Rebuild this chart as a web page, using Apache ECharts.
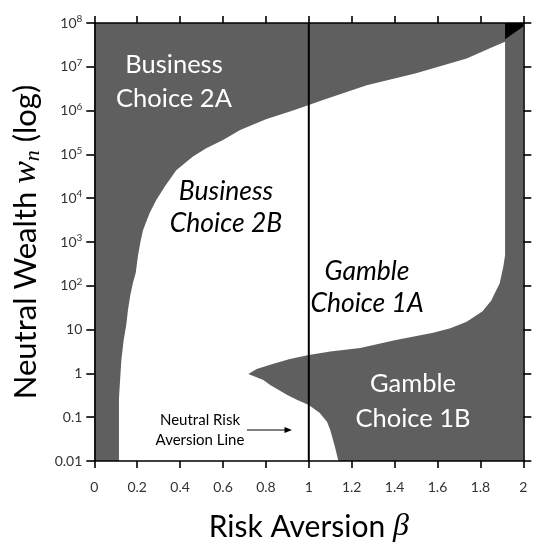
<!DOCTYPE html>
<html><head><meta charset="utf-8">
<script src="https://cdn.jsdelivr.net/npm/echarts@6/dist/echarts.min.js"></script>
<style>html,body{margin:0;padding:0;background:#fff}#c{width:546px;height:550px}</style>
</head><body><div id="c"></div>
<script>
// ---- data ----
const xTickLabels = ['0','0.2','0.4','0.6','0.8','1','1.2','1.4','1.6','1.8','2'];
const yTickBase = ['0.01','0.1','1','10','10','10','10','10','10','10','10'];
const yTickSup  = ['','','','','2','3','4','5','6','7','8'];

// Business choice boundary (2A above / 2B below)
const businessBeta = [0.115,0.115,0.126,0.137,0.149,0.157,0.168,0.180,0.193,0.204,0.215,0.227,0.258,0.289,0.328,0.382,0.46,0.522,0.60,0.68,0.80,0.926,1.0,1.066,1.27,1.50,1.736,1.86,1.915];
const businessW    = [0.01,0.27,2.0,5.8,12.7,28,62,116,195,500,1000,1860,4570,9120,18200,43700,89100,138000,214000,363000,631000,1.0e6,1.35e6,1.74e6,3.8e6,7.08e6,1.55e7,2.88e7,3.72e7];

// Gamble choice 1B wedge: upper edge
const gambleUpperBeta = [0.718,0.757,0.835,0.912,1.0,1.1,1.24,1.4,1.58,1.66,1.736,1.81,1.85,1.89,1.907,1.915,1.93];
const gambleUpperW    = [0.97,1.26,1.66,2.14,2.63,3.16,3.8,5.75,8.5,10.7,15.1,26.3,45.7,115,275,500,500];
// Gamble choice 1B wedge: lower edge
const gambleLowerBeta = [0.70,0.718,0.788,0.82,0.866,0.9,0.944,1.0,1.05,1.085,1.1,1.122,1.138];
const gambleLowerW    = [0.97,0.97,0.71,0.54,0.40,0.32,0.25,0.19,0.126,0.079,0.051,0.021,0.01];

// Black corner region (top right)
const cornerBeta = [1.915, 2.0];
const cornerW    = [4.27e7, 8.3e7];

// Neutral risk aversion line
const neutralBeta = [1, 1];
const neutralW    = [0.01, 1e8];

const DARK = '#5f5f5f';
const zip = (a, b) => a.map((v, i) => [v, b[i]]);

const chart = echarts.init(document.getElementById('c'), null, {renderer: 'canvas'});
const axisLineStyle = {color: '#000', width: 1.6};
const baseX = {
  type: 'value', min: 0, max: 2, interval: 0.2, z: 10,
  axisLine: {show: true, onZero: false, lineStyle: axisLineStyle},
  axisTick: {show: true, inside: false, length: 7, lineStyle: axisLineStyle},
  splitLine: {show: false}
};
const baseY = {
  type: 'log', logBase: 10, min: 0.01, max: 1e8, interval: 1, splitNumber: 10, z: 10,
  axisLine: {show: true, onZero: false, lineStyle: axisLineStyle},
  axisTick: {show: true, inside: false, length: 8, lineStyle: axisLineStyle},
  splitLine: {show: false}, minorTick: {show: false}
};

chart.setOption({
  animation: false,
  grid: {left: 94.3, right: 22.7, top: 23, bottom: 89, show: true, backgroundColor: DARK, borderWidth: 0},
  xAxis: [
    Object.assign({}, baseX, {
      position: 'bottom',
      axisLabel: {margin: 19, fontSize: 14, color: '#333', fontFamily: 'Lato',
        formatter: (v, i) => xTickLabels[i]},
      name: 'Risk Aversion {b|β}', nameLocation: 'middle', nameGap: 50,
      nameTextStyle: {fontFamily: 'Lato', fontSize: 30, color: '#000',
        rich: {b: {fontFamily: 'Liberation Serif', fontStyle: 'italic', fontSize: 32}}}
    }),
    Object.assign({}, baseX, {position: 'top', axisLabel: {show: false}})
  ],
  yAxis: [
    Object.assign({}, baseY, {
      position: 'left',
      axisLabel: {margin: 12, color: '#333', fontFamily: 'Lato',
        formatter: (v, i) => '{b|' + yTickBase[i] + '}' + (yTickSup[i] ? '{s|' + yTickSup[i] + '}' : ''),
        rich: {
          b: {fontSize: 14, lineHeight: 18, fontFamily: 'Lato', color: '#333'},
          s: {fontSize: 10, lineHeight: 10, verticalAlign: 'top', fontFamily: 'Lato', color: '#333'}
        }},
      name: '{a|Neutral Wealth }{i|w}{sub|n}{a| (log)}', nameLocation: 'middle', nameRotate: 90, nameGap: 49,
      nameTextStyle: {color: '#000',
        rich: {
          a: {fontFamily: 'Lato', fontSize: 31, lineHeight: 36, color: '#000'},
          i: {fontFamily: 'Liberation Serif', fontStyle: 'italic', fontSize: 34, lineHeight: 36, color: '#000'},
          sub: {fontFamily: 'Liberation Serif', fontStyle: 'italic', fontSize: 22, lineHeight: 17, verticalAlign: 'bottom', color: '#000'}
        }}
    }),
    Object.assign({}, baseY, {position: 'right', axisLabel: {show: false}})
  ],
  series: [
    {type: 'line', data: zip(businessBeta, businessW), symbol: 'none', silent: true, z: 2,
      lineStyle: {opacity: 0}, areaStyle: {color: '#fff', opacity: 1, origin: 'start'}},
    {type: 'line', data: zip(gambleUpperBeta, gambleUpperW), symbol: 'none', silent: true, z: 3,
      lineStyle: {opacity: 0}, areaStyle: {color: DARK, opacity: 1, origin: 'start'}},
    {type: 'line', data: zip(gambleLowerBeta, gambleLowerW), symbol: 'none', silent: true, z: 4,
      lineStyle: {opacity: 0}, areaStyle: {color: '#fff', opacity: 1, origin: 'start'}},
    {type: 'line', data: zip(cornerBeta, cornerW), symbol: 'none', silent: true, z: 5,
      lineStyle: {opacity: 0}, areaStyle: {color: '#000', opacity: 1, origin: 'end'}},
    {type: 'line', data: zip(neutralBeta, neutralW), symbol: 'none', silent: true, z: 6,
      lineStyle: {color: '#000', width: 2}}
  ],
  graphic: [
    {type: 'text', x: 174, y: 82, z: 100, style: {text: 'Business\nChoice 2A', fill: '#fff', fontSize: 25.5, fontFamily: 'Lato', align: 'center', verticalAlign: 'middle', lineHeight: 34}},
    {type: 'text', x: 226, y: 207, z: 100, style: {text: 'Business\nChoice 2B', fill: '#000', fontSize: 26.5, fontStyle: 'italic', fontFamily: 'Lato', align: 'center', verticalAlign: 'middle', lineHeight: 32}},
    {type: 'text', x: 367, y: 287, z: 100, style: {text: 'Gamble\nChoice 1A', fill: '#000', fontSize: 26.5, fontStyle: 'italic', fontFamily: 'Lato', align: 'center', verticalAlign: 'middle', lineHeight: 32}},
    {type: 'text', x: 413, y: 401, z: 100, style: {text: 'Gamble\nChoice 1B', fill: '#fff', fontSize: 25.5, fontFamily: 'Lato', align: 'center', verticalAlign: 'middle', lineHeight: 35}},
    {type: 'text', x: 200, y: 430, z: 100, style: {text: 'Neutral Risk\nAversion Line', fill: '#000', fontSize: 15, fontFamily: 'Lato', align: 'center', verticalAlign: 'middle', lineHeight: 20}},
    {type: 'line', z: 100, shape: {x1: 247, y1: 430, x2: 286, y2: 430}, style: {stroke: '#000', lineWidth: 1.2}},
    {type: 'polygon', z: 100, shape: {points: [[292, 430], [284.5, 427], [284.5, 433]]}, style: {fill: '#000'}}
  ]
});
</script></body></html>
